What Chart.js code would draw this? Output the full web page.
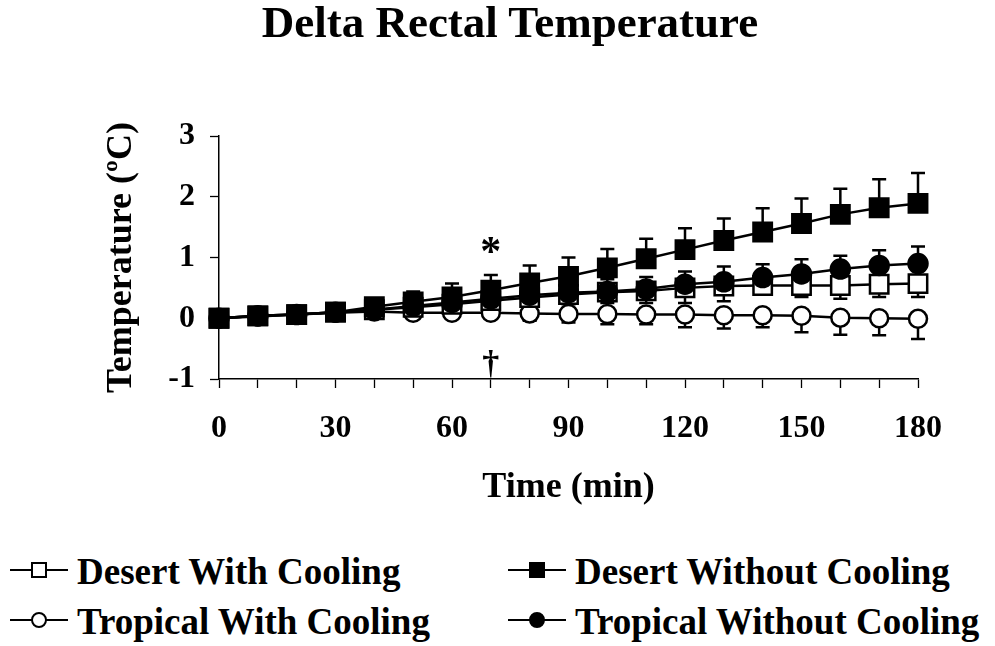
<!DOCTYPE html>
<html lang="en">
<head>
    <meta charset="UTF-8">
    <title>Delta Rectal Temperature</title>
    <script src="https://cdn.jsdelivr.net/npm/chart.js"></script>
    <style>
        * {
            box-sizing: border-box;
            margin: 0;
            padding: 0;
        }

        body {
            width: 995px;
            height: 646px;
            background: #fff;
            color: #000;
            font-family: "Liberation Serif", "Times New Roman", serif;
            font-weight: bold;
            overflow: hidden;
        }

        .page {
            position: relative;
            width: 995px;
            height: 646px;
        }

        #chart-box {
            position: absolute;
            left: 0;
            top: 0;
            width: 995px;
            height: 540px;
        }

        /* Title sits above the plot, centred a little right of the page middle */
        h1 {
            position: absolute;
            left: 0;
            top: 0;
            width: 1020px;
            text-align: center;
            font-size: 45px;
            line-height: 45px;
            font-weight: bold;
        }

        /* Legend: two columns, two rows */
        .legend-item {
            position: absolute;
            font-size: 37px;
            line-height: 50px;
            height: 50px;
            white-space: nowrap;
        }

        .legend-item .sym {
            display: inline-block;
            position: relative;
            width: 67px;
            height: 50px;
            vertical-align: top;
        }

        .legend-item .ln {
            position: absolute;
            left: 0;
            top: 22px;
            width: 58px;
            height: 2px;
            background: #000;
        }

        .legend-item .mk {
            position: absolute;
            left: 21px;
            top: 15px;
            width: 16px;
            height: 16px;
            border: 2px solid #000;
            background: #fff;
        }

        .legend-item .mk.filled { background: #000; }
        .legend-item .mk.round { border-radius: 50%; }
    </style>
</head>
<body>
<div class="page">
    <div id="chart-box">
        <canvas id="tempChart" width="995" height="540"></canvas>
    </div>
    <h1>Delta Rectal Temperature</h1>
    <div id="legend"></div>
</div>

<script>
    // time points (min)
    const time = [0, 10, 20, 30, 40, 50, 60, 70, 80, 90, 100, 110, 120, 130, 140, 150, 160, 170, 180];

    // mean change in rectal temperature (deg C) and SE
    const desertNoCooling    = [0, 0.04, 0.06, 0.10, 0.19, 0.27, 0.35, 0.46, 0.58, 0.69, 0.83, 0.98, 1.13, 1.28, 1.42, 1.56, 1.71, 1.82, 1.89];
    const desertNoCoolingErr = [0, 0.02, 0.03, 0.05, 0.08, 0.17, 0.22, 0.25, 0.29, 0.31, 0.31, 0.33, 0.35, 0.36, 0.39, 0.41, 0.42, 0.47, 0.50];

    const tropicalNoCooling    = [0, 0.04, 0.06, 0.10, 0.14, 0.20, 0.26, 0.32, 0.38, 0.42, 0.44, 0.48, 0.56, 0.60, 0.67, 0.73, 0.81, 0.87, 0.90];
    const tropicalNoCoolingErr = [0, 0.02, 0.03, 0.04, 0.06, 0.08, 0.10, 0.13, 0.16, 0.18, 0.20, 0.20, 0.21, 0.25, 0.22, 0.24, 0.22, 0.25, 0.28];

    const desertCooling    = [0, 0.04, 0.06, 0.10, 0.14, 0.18, 0.23, 0.29, 0.34, 0.39, 0.43, 0.45, 0.50, 0.53, 0.54, 0.54, 0.54, 0.56, 0.57];
    const desertCoolingErr = [0, 0.02, 0.03, 0.04, 0.06, 0.08, 0.10, 0.12, 0.14, 0.16, 0.18, 0.20, 0.25, 0.25, 0.14, 0.19, 0.22, 0.21, 0.22];

    const tropicalCooling    = [0, 0.03, 0.06, 0.09, 0.11, 0.09, 0.09, 0.09, 0.08, 0.07, 0.07, 0.06, 0.06, 0.05, 0.05, 0.04, 0.01, 0.00, -0.01];
    const tropicalCoolingErr = [0, 0.02, 0.03, 0.04, 0.05, 0.06, 0.08, 0.10, 0.12, 0.14, 0.17, 0.16, 0.21, 0.22, 0.20, 0.27, 0.28, 0.28, 0.33];

    const seriesLabels = ['Desert With Cooling', 'Desert Without Cooling', 'Tropical With Cooling', 'Tropical Without Cooling'];

    const xTickLabels = [0, 30, 60, 90, 120, 150, 180];
    const yTickLabels = [-1, 0, 1, 2, 3];

    // significance marks at 70 min
    const noteText  = ['*', '\u2020'];
    const noteTime  = [70, 70];
    const noteValue = [0.88, -0.92];
    const noteSize  = [42, 34];

    const FONT = '"Liberation Serif", "Times New Roman", serif';

    function points(values) {
        return time.map((t, i) => ({ x: t, y: values[i] }));
    }

    function makeSet(label, values, errs, dir, style, filled, radius) {
        return {
            label: label,
            data: points(values),
            errors: errs,
            errDir: dir,
            borderColor: '#000',
            borderWidth: 2.5,
            pointStyle: style,
            pointRadius: radius,
            pointBorderWidth: 2.5,
            pointBackgroundColor: filled ? '#000' : '#fff',
            pointBorderColor: '#000',
            fill: false,
            tension: 0,
            clip: false
        };
    }

    // first dataset is drawn on top
    const datasets = [
        makeSet(seriesLabels[1], desertNoCooling, desertNoCoolingErr, 1, 'rect', true, 13),
        makeSet(seriesLabels[3], tropicalNoCooling, tropicalNoCoolingErr, 1, 'circle', true, 9.5),
        makeSet(seriesLabels[0], desertCooling, desertCoolingErr, -1, 'rect', false, 13),
        makeSet(seriesLabels[2], tropicalCooling, tropicalCoolingErr, -1, 'circle', false, 9)
    ];

    // one-sided SE bars: up for the filled symbols, down for the open ones
    const errorBars = {
        id: 'errorBars',
        beforeDatasetsDraw(chart) {
            const ctx = chart.ctx;
            const x = chart.scales.x;
            const y = chart.scales.y;
            ctx.save();
            ctx.strokeStyle = '#000';
            ctx.lineWidth = 2.5;
            chart.data.datasets.forEach(ds => {
                ds.data.forEach((p, i) => {
                    const e = ds.errors[i];
                    if (!e) return;
                    const px = x.getPixelForValue(p.x);
                    const y0 = y.getPixelForValue(p.y);
                    const y1 = y.getPixelForValue(p.y + ds.errDir * e);
                    ctx.beginPath();
                    ctx.moveTo(px, y0);
                    ctx.lineTo(px, y1);
                    ctx.moveTo(px - 7, y1);
                    ctx.lineTo(px + 7, y1);
                    ctx.stroke();
                });
            });
            ctx.restore();
        }
    };

    const notes = {
        id: 'notes',
        afterDatasetsDraw(chart) {
            const ctx = chart.ctx;
            ctx.save();
            ctx.fillStyle = '#000';
            ctx.textAlign = 'center';
            ctx.textBaseline = 'alphabetic';
            noteText.forEach((t, i) => {
                ctx.font = 'bold ' + noteSize[i] + 'px ' + FONT;
                ctx.fillText(t, chart.scales.x.getPixelForValue(noteTime[i]), chart.scales.y.getPixelForValue(noteValue[i]));
            });
            ctx.restore();
        }
    };

    const tickFont = { family: FONT, size: 32, weight: 'bold' };
    const titleFont = { family: FONT, size: 36, weight: 'bold' };

    new Chart(document.getElementById('tempChart'), {
        type: 'line',
        data: { datasets: datasets },
        options: {
            responsive: false,
            animation: false,
            devicePixelRatio: 1,
            layout: { padding: { top: 136, right: 77, bottom: 0, left: 0 } },
            plugins: {
                legend: { display: false },
                tooltip: { enabled: false },
                title: { display: false }
            },
            scales: {
                x: {
                    type: 'linear',
                    min: 0,
                    max: 180,
                    ticks: {
                        stepSize: 10,
                        autoSkip: false,
                        maxRotation: 0,
                        padding: 22,
                        color: '#000',
                        font: tickFont,
                        callback: v => xTickLabels.includes(v) ? String(v) : ''
                    },
                    grid: { drawOnChartArea: false, drawTicks: true, tickLength: 9, tickColor: '#000', tickWidth: 1.3 },
                    border: { display: true, color: '#000', width: 1.5 },
                    title: { display: true, text: 'Time (min)', color: '#000', font: titleFont, padding: { top: 0, bottom: 31 } },
                    afterFit: s => { s.height = 161; }
                },
                y: {
                    min: -1,
                    max: 3,
                    ticks: {
                        stepSize: 0.5,
                        padding: 15,
                        color: '#000',
                        font: tickFont,
                        callback: v => yTickLabels.includes(v) ? String(v) : ''
                    },
                    grid: { drawOnChartArea: false, drawTicks: true, tickLength: 9, tickColor: '#000', tickWidth: 1.3 },
                    border: { display: true, color: '#000', width: 1.5 },
                    title: { display: true, text: 'Temperature (\u00baC)', color: '#000', font: titleFont, padding: { top: 100, bottom: 0 } },
                    afterFit: s => { s.width = 219; }
                }
            }
        },
        plugins: [errorBars, notes]
    });

    // legend built from the same labels, 2 x 2 like the original
    const legendSpots = [
        { label: seriesLabels[0], left: 10,  top: 547, cls: '' },
        { label: seriesLabels[1], left: 508, top: 547, cls: 'filled' },
        { label: seriesLabels[2], left: 10,  top: 597, cls: 'round' },
        { label: seriesLabels[3], left: 508, top: 597, cls: 'round filled' }
    ];
    const legend = document.getElementById('legend');
    legendSpots.forEach(s => {
        const item = document.createElement('div');
        item.className = 'legend-item';
        item.style.left = s.left + 'px';
        item.style.top = s.top + 'px';
        item.innerHTML = '<span class="sym"><i class="ln"></i><i class="mk ' + s.cls + '"></i></span>';
        item.appendChild(document.createTextNode(s.label));
        legend.appendChild(item);
    });
</script>
</body>
</html>
